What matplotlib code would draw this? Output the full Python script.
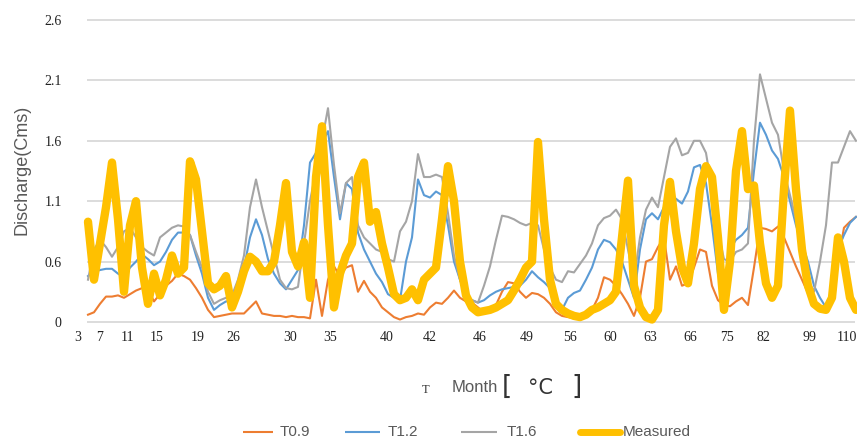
import matplotlib
matplotlib.use("Agg")
import matplotlib.pyplot as plt
from matplotlib.lines import Line2D

# monthly discharge series (one value per step along the x axis)
t09 = [0.16, 0.18, 0.25, 0.31, 0.31, 0.32, 0.30, 0.33, 0.36, 0.38,
       0.37, 0.27, 0.33, 0.40, 0.44, 0.50, 0.48, 0.45, 0.38, 0.30,
       0.20, 0.14, 0.15, 0.16, 0.17, 0.17, 0.17, 0.22, 0.27, 0.17,
       0.16, 0.15, 0.15, 0.14, 0.15, 0.14, 0.14, 0.13, 0.45, 0.15,
       0.45, 0.56, 0.48, 0.55, 0.57, 0.35, 0.44, 0.35, 0.30, 0.22,
       0.18, 0.14, 0.12, 0.14, 0.15, 0.17, 0.16, 0.22, 0.26, 0.25,
       0.30, 0.36, 0.30, 0.27, 0.26, 0.22, 0.18, 0.20, 0.24, 0.35,
       0.43, 0.42, 0.35, 0.30, 0.34, 0.33, 0.30, 0.25, 0.18, 0.15,
       0.14, 0.13, 0.14, 0.17, 0.20, 0.30, 0.47, 0.45, 0.40, 0.33,
       0.25, 0.15, 0.30, 0.60, 0.62, 0.72, 0.80, 0.45, 0.56, 0.40,
       0.42, 0.55, 0.70, 0.68, 0.40, 0.28, 0.24, 0.23, 0.27, 0.30,
       0.24, 0.55, 0.88, 0.87, 0.85, 0.89, 0.80, 0.68, 0.56, 0.45,
       0.34, 0.27, 0.22, 0.20, 0.35, 0.60, 0.88, 0.93, 0.97]
t12 = [0.48, 0.52, 0.53, 0.54, 0.54, 0.50, 0.47, 0.55, 0.60, 0.66,
       0.62, 0.57, 0.60, 0.68, 0.78, 0.84, 0.84, 0.82, 0.65, 0.50,
       0.30, 0.20, 0.24, 0.27, 0.27, 0.42, 0.55, 0.80, 0.95, 0.82,
       0.62, 0.50, 0.42, 0.37, 0.45, 0.53, 0.90, 1.42, 1.50, 1.58,
       1.68, 1.30, 0.95, 1.25, 1.20, 0.84, 0.70, 0.60, 0.50, 0.43,
       0.33, 0.30, 0.28, 0.60, 0.80, 1.28, 1.15, 1.13, 1.18, 1.15,
       0.90, 0.60, 0.45, 0.32, 0.28, 0.26, 0.28, 0.32, 0.35, 0.37,
       0.38, 0.39, 0.40, 0.45, 0.52, 0.47, 0.43, 0.38, 0.30, 0.20,
       0.30, 0.34, 0.36, 0.45, 0.55, 0.70, 0.78, 0.76, 0.70, 0.60,
       0.45, 0.30, 0.70, 0.95, 1.00, 0.95, 1.05, 1.15, 1.12, 1.08,
       1.18, 1.38, 1.40, 1.25, 0.90, 0.50, 0.40, 0.70, 0.78, 0.82,
       0.88, 1.35, 1.75, 1.65, 1.52, 1.45, 1.30, 1.10, 0.90, 0.75,
       0.60, 0.40, 0.30, 0.22, 0.30, 0.70, 0.82, 0.92, 0.97]
t16 = [0.45, 0.70, 0.78, 0.72, 0.64, 0.72, 0.85, 0.88, 0.80, 0.72,
       0.68, 0.65, 0.80, 0.84, 0.88, 0.90, 0.89, 0.82, 0.68, 0.55,
       0.35, 0.25, 0.28, 0.30, 0.32, 0.45, 0.65, 1.05, 1.28, 1.05,
       0.85, 0.65, 0.45, 0.38, 0.37, 0.39, 0.75, 1.10, 1.35, 1.60,
       1.87, 1.40, 1.00, 1.25, 1.30, 0.90, 0.80, 0.75, 0.70, 0.68,
       0.62, 0.60, 0.85, 0.93, 1.10, 1.49, 1.30, 1.30, 1.32, 1.30,
       1.00, 0.65, 0.45, 0.32, 0.28, 0.26, 0.40, 0.56, 0.78, 0.98,
       0.97, 0.95, 0.92, 0.90, 0.92, 0.90, 0.70, 0.55, 0.45, 0.43,
       0.52, 0.51, 0.58, 0.65, 0.75, 0.90, 0.96, 0.98, 1.03, 0.95,
       0.70, 0.45, 0.80, 1.03, 1.13, 1.05, 1.30, 1.55, 1.62, 1.48,
       1.50, 1.60, 1.60, 1.50, 1.20, 0.85, 0.62, 0.60, 0.68, 0.70,
       0.75, 1.60, 2.15, 1.95, 1.75, 1.65, 1.35, 1.15, 0.95, 0.70,
       0.45, 0.35, 0.60, 0.90, 1.42, 1.42, 1.55, 1.68, 1.60]
measured = [0.93, 0.45, 0.75, 1.05, 1.42, 0.95, 0.35, 0.90, 1.10, 0.55,
            0.25, 0.50, 0.32, 0.45, 0.65, 0.50, 0.55, 1.43, 1.28, 0.85,
            0.42, 0.37, 0.40, 0.48, 0.22, 0.35, 0.52, 0.64, 0.60, 0.52,
            0.52, 0.60, 0.90, 1.25, 0.68, 0.56, 0.76, 0.30, 1.30, 1.72,
            0.90, 0.22, 0.50, 0.65, 0.75, 1.30, 1.42, 0.93, 1.01, 0.75,
            0.55, 0.33, 0.28, 0.30, 0.37, 0.28, 0.45, 0.50, 0.55, 0.95,
            1.39, 1.10, 0.60, 0.32, 0.22, 0.18, 0.19, 0.20, 0.22, 0.25,
            0.28, 0.36, 0.45, 0.55, 0.60, 1.59, 0.95, 0.45, 0.25, 0.20,
            0.17, 0.15, 0.14, 0.16, 0.20, 0.22, 0.25, 0.28, 0.35, 0.80,
            1.27, 0.40, 0.22, 0.14, 0.12, 0.20, 0.90, 1.26, 0.85, 0.55,
            0.42, 0.75, 1.20, 1.39, 1.30, 0.80, 0.20, 0.60, 1.35, 1.68,
            1.20, 1.23, 0.75, 0.42, 0.30, 0.40, 1.20, 1.85, 1.20, 0.70,
            0.40, 0.25, 0.21, 0.20, 0.30, 0.80, 0.60, 0.30, 0.20]

month_labels = ["3", "7", "11", "15", "19", "26", "30", "35", "40", "42",
                "46", "49", "56", "60", "63", "66", "75", "82", "99", "110"]
month_pos = [-1.67, 2.0, 6.5, 11.5, 18.3, 24.2, 33.7, 40.3, 49.8, 57.0,
             65.3, 73.2, 80.3, 87.0, 93.7, 100.3, 106.5, 112.5, 120.3, 126.5]
y_vals = [0.1, 0.6, 1.1, 1.6, 2.1, 2.6]
y_labels = ["0", "0.6", "1.1", "1.6", "2.1", "2.6"]

W, H = 867, 443
fig = plt.figure(figsize=(W / 100, H / 100), dpi=100)
ax = fig.add_axes([70 / W, 1 - 330 / H, 787 / W, 315 / H])

x = list(range(len(measured)))
ax.plot(x, t09, color="#ED7D31", lw=1.5, zorder=3)
ax.plot(x, t12, color="#5B9BD5", lw=1.5, zorder=3)
ax.plot(x, t16, color="#A5A5A5", lw=1.5, zorder=3)
ax.plot(x, measured, color="#FFC000", lw=6, zorder=4,
        solid_joinstyle="round", solid_capstyle="round")

ax.set_xlim(-3, 128.17)
ax.set_ylim(0.1 - 8 / 120, 2.6 + 5 / 120)
ax.hlines(y_vals, -1 / 6, 127.8, color="#d9d9d9", lw=1.3, zorder=1)

for s in ax.spines.values():
    s.set_visible(False)
ax.set_yticks(y_vals)
ax.set_yticklabels(y_labels, family="Liberation Serif", fontsize=10, color="#222222")
ax.set_xticks(month_pos)
ax.set_xticklabels(month_labels, family="Liberation Serif", fontsize=10, color="#222222")
ax.tick_params(length=0)
ax.tick_params(axis="y", pad=6)
ax.tick_params(axis="x", pad=1)

sans = "Liberation Sans"
fig.text(22 / W, 1 - 170 / H, "Discharge(Cms)", rotation=90, ha="center", va="center",
         family=sans, fontsize=13, color="#595959")

# axis title under the months
fig.text(426 / W, 1 - 390 / H, "T", ha="center", va="center",
         family="Liberation Serif", fontsize=9, color="#333333")
fig.text(475 / W, 1 - 388 / H, "Month", ha="center", va="center",
         family=sans, fontsize=12, color="#595959")
fig.text(507 / W, 1 - 387 / H, "[", ha="center", va="center",
         family="DejaVu Sans", fontsize=19, color="#333333")
fig.text(541 / W, 1 - 388 / H, "°C", ha="center", va="center",
         family="DejaVu Sans", fontsize=15, color="#333333")
fig.text(577 / W, 1 - 387 / H, "]", ha="center", va="center",
         family="DejaVu Sans", fontsize=19, color="#333333")

# legend
items = [("T0.9", "#ED7D31", 1.5, 243, 273, 280),
         ("T1.2", "#5B9BD5", 1.5, 345, 380, 388),
         ("T1.6", "#A5A5A5", 1.5, 461, 497, 507),
         ("Measured", "#FFC000", 5, 580, 620, 623)]
ly = 1 - 432 / H
for name, col, lw, x0, x1, tx in items:
    fig.add_artist(Line2D([x0 / W, x1 / W], [ly, ly], color=col, lw=lw,
                          solid_capstyle="round" if lw > 3 else "butt"))
    fig.text(tx / W, ly, name, ha="left", va="center", family=sans,
             fontsize=11, color="#595959")

fig.savefig("out.png", dpi=100)
